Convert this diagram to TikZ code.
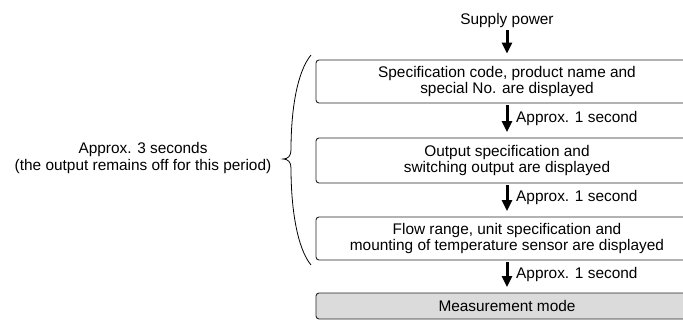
\documentclass[tikz,border=0pt]{standalone}
\usepackage{fontspec}
\setmainfont{Liberation Sans}
\usetikzlibrary{arrows.meta}
\begin{document}
\begin{tikzpicture}[x=1pt,y=-1pt,
  every node/.style={font=\fontsize{15.4}{16.5}\selectfont, inner sep=0pt},
  box/.style={draw=black!85, line width=0.9pt, rounded corners=3pt, minimum width=382pt, align=center},
  fatarrow/.style={line width=3pt, -{Triangle[width=10pt,length=11pt]}, shorten <=2pt, shorten >=5.5pt},
  lbl/.style={anchor=west},
  bracestyle/.style={line width=0.8pt, black}
]
\path[use as bounding box, clip] (0,0) rectangle (683,321);
\fill[white] (0,0) rectangle (683,321);

\node (sp) at (507,21) {Supply power};
\node[box, minimum height=43pt] (b1) at (507,81.5) {Specification code, product name and\\special No. are displayed};
\node[box, minimum height=45pt] (b2) at (507,160.5) {Output specification and\\switching output are displayed};
\node[box, minimum height=43pt] (b3) at (507,238.5) {Flow range, unit specification and\\mounting of temperature sensor are displayed};
\node[box, minimum height=26pt, fill=black!14] (mm) at (507,306) {Measurement mode};

\draw[fatarrow, shorten <=1.5pt, shorten >=6pt] (sp) -- (b1);
\draw[fatarrow] (b1) -- (b2);
\draw[fatarrow] (b2) -- (b3);
\draw[fatarrow] (b3) -- (mm);

\node[lbl] (l1) at (516,118.7) {Approx. 1 second};
\node[lbl] (l2) at (516,198) {Approx. 1 second};
\node[lbl] (l3) at (516,275) {Approx. 1 second};

\draw[bracestyle] (311,55) .. controls (297,72) and (291,110) .. (291,150)
  .. controls (291,156) and (288,159) .. (283,159)
  .. controls (288,159) and (291,162) .. (291,168)
  .. controls (291,208) and (297,248) .. (311,265);

\node[align=center] (note) at (143,158) {Approx. 3 seconds\\(the output remains off for this period)};
\end{tikzpicture}
\end{document}
